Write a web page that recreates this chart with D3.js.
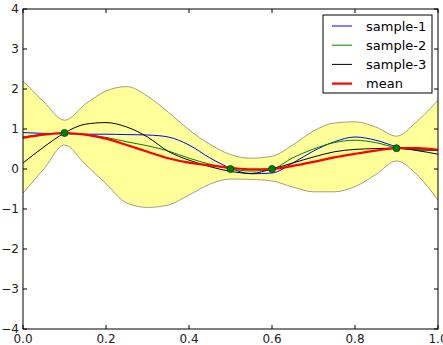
<!DOCTYPE html>
<html>
<head>
<meta charset="utf-8">
<script src="https://cdn.jsdelivr.net/npm/d3@7"></script>
<style>
  body { margin: 0; background: #fff; }
  svg { font-family: "DejaVu Sans", sans-serif; }
</style>
</head>
<body>
<svg id="chart" width="443" height="345"></svg>
<script>
"use strict";

// sample grid along x
var xs = [0, 0.05, 0.1, 0.15, 0.2, 0.25, 0.3, 0.35, 0.4, 0.45, 0.5,
	0.55, 0.6, 0.65, 0.7, 0.75, 0.8, 0.85, 0.9, 0.95, 1.0];

// confidence band (upper / lower)
var bandUpper = [2.2, 1.68, 1.22, 1.62, 1.95, 2.06, 1.82, 1.42, 0.98, 0.62, 0.36,
	0.27, 0.32, 0.6, 0.95, 1.15, 1.18, 1.05, 0.82, 1.2, 1.72];
var bandLower = [-0.6, 0.0, 0.6, 0.12, -0.37, -0.85, -0.96, -0.9, -0.65, -0.38, -0.25,
	-0.26, -0.3, -0.45, -0.57, -0.57, -0.44, -0.14, 0.2, -0.15, -0.78];

var sample1 = [0.91, 0.89, 0.88, 0.87, 0.87, 0.86, 0.85, 0.8, 0.6, 0.28, 0.02,
	-0.12, -0.1, 0.15, 0.45, 0.68, 0.8, 0.72, 0.56, 0.48, 0.46];
var sample2 = [0.8, 0.87, 0.9, 0.86, 0.79, 0.68, 0.58, 0.45, 0.27, 0.12, 0.0,
	-0.05, 0.0, 0.28, 0.5, 0.66, 0.72, 0.66, 0.53, 0.48, 0.47];
var sample3 = [0.15, 0.55, 0.9, 1.12, 1.16, 1.05, 0.8, 0.44, 0.22, 0.06, -0.06,
	-0.11, 0.0, 0.15, 0.3, 0.43, 0.49, 0.51, 0.52, 0.46, 0.37];
var meanLine = [0.78, 0.86, 0.9, 0.86, 0.76, 0.6, 0.43, 0.27, 0.16, 0.09, 0.03,
	-0.01, 0.0, 0.08, 0.18, 0.29, 0.38, 0.46, 0.52, 0.52, 0.48];

// observed points
var obsX = [0.1, 0.5, 0.6, 0.9];
var obsY = [0.9, 0.0, 0.0, 0.52];

var xTicks = [0, 0.2, 0.4, 0.6, 0.8, 1.0];
var yTicks = [-4, -3, -2, -1, 0, 1, 2, 3, 4];

var series = [
	{ name: 'sample-1', values: sample1, color: '#0000ff', width: 1 },
	{ name: 'sample-2', values: sample2, color: '#008000', width: 1 },
	{ name: 'sample-3', values: sample3, color: '#000000', width: 1 },
	{ name: 'mean', values: meanLine, color: '#ff0000', width: 2.2 }
];

var svg = d3.select('#chart');
var margin = { top: 9, right: 5, bottom: 16, left: 23 };
var width = 443 - margin.left - margin.right;
var height = 345 - margin.top - margin.bottom;

var x = d3.scaleLinear().domain([0, 1]).range([0, width]);
var y = d3.scaleLinear().domain([-4, 4]).range([height, 0]);

var g = svg.append('g')
	.attr('transform', 'translate(' + margin.left + ',' + margin.top + ')');

var curve = d3.curveMonotoneX;

// band
var band = d3.area()
	.x(function(d, i) { return x(xs[i]); })
	.y0(function(d, i) { return y(bandLower[i]); })
	.y1(function(d, i) { return y(bandUpper[i]); })
	.curve(curve);
g.append('path')
	.datum(xs)
	.attr('d', band)
	.attr('fill', '#ffff99');

var edge = d3.line()
	.x(function(d, i) { return x(xs[i]); })
	.y(function(d) { return y(d); })
	.curve(curve);
[bandUpper, bandLower].forEach(function(arr) {
	g.append('path')
		.datum(arr)
		.attr('d', edge)
		.attr('fill', 'none')
		.attr('stroke', '#a0a080')
		.attr('stroke-width', 1);
});

// lines
series.forEach(function(s) {
	g.append('path')
		.datum(s.values)
		.attr('d', edge)
		.attr('fill', 'none')
		.attr('stroke', s.color)
		.attr('stroke-width', s.width);
});

// observations
g.selectAll('.obs')
	.data(obsX)
	.enter()
	.append('circle')
	.attr('class', 'obs')
	.attr('cx', function(d) { return x(d); })
	.attr('cy', function(d, i) { return y(obsY[i]); })
	.attr('r', 3.5)
	.attr('fill', '#007f00')
	.attr('stroke', '#004000')
	.attr('stroke-width', 0.8);

// frame
g.append('rect')
	.attr('width', width)
	.attr('height', height)
	.attr('fill', 'none')
	.attr('stroke', '#000')
	.attr('stroke-width', 1);

// ticks pointing inward, on all four sides
var tickLen = 4;
var tickStyle = function(sel) {
	sel.attr('stroke', '#000').attr('stroke-width', 1);
};
xTicks.forEach(function(t) {
	g.append('line').attr('x1', x(t)).attr('x2', x(t))
		.attr('y1', height).attr('y2', height - tickLen).call(tickStyle);
	g.append('line').attr('x1', x(t)).attr('x2', x(t))
		.attr('y1', 0).attr('y2', tickLen).call(tickStyle);
	g.append('text')
		.attr('x', x(t))
		.attr('y', height + 14)
		.attr('text-anchor', 'middle')
		.attr('font-size', 12)
		.attr('fill', '#222')
		.text(d3.format('.1f')(t));
});
yTicks.forEach(function(t) {
	g.append('line').attr('x1', 0).attr('x2', tickLen)
		.attr('y1', y(t)).attr('y2', y(t)).call(tickStyle);
	g.append('line').attr('x1', width).attr('x2', width - tickLen)
		.attr('y1', y(t)).attr('y2', y(t)).call(tickStyle);
	g.append('text')
		.attr('x', -4)
		.attr('y', y(t) + 4)
		.attr('text-anchor', 'end')
		.attr('font-size', 12)
		.attr('fill', '#222')
		.text(d3.format('d')(t).replace('-', '\u2212'));
});

// legend
var legend = g.append('g')
	.attr('transform', 'translate(' + (width - 115) + ',6)');
legend.append('rect')
	.attr('width', 109)
	.attr('height', 78)
	.attr('fill', '#fff')
	.attr('stroke', '#000')
	.attr('stroke-width', 1);
series.forEach(function(s, i) {
	var ly = 11 + i * 19.2;
	legend.append('line')
		.attr('x1', 9).attr('x2', 29)
		.attr('y1', ly).attr('y2', ly)
		.attr('stroke', s.color)
		.attr('stroke-width', s.width);
	legend.append('text')
		.attr('x', 43)
		.attr('y', ly + 4.5)
		.attr('font-size', 13)
		.attr('fill', '#000')
		.text(s.name);
});
</script>
</body>
</html>
